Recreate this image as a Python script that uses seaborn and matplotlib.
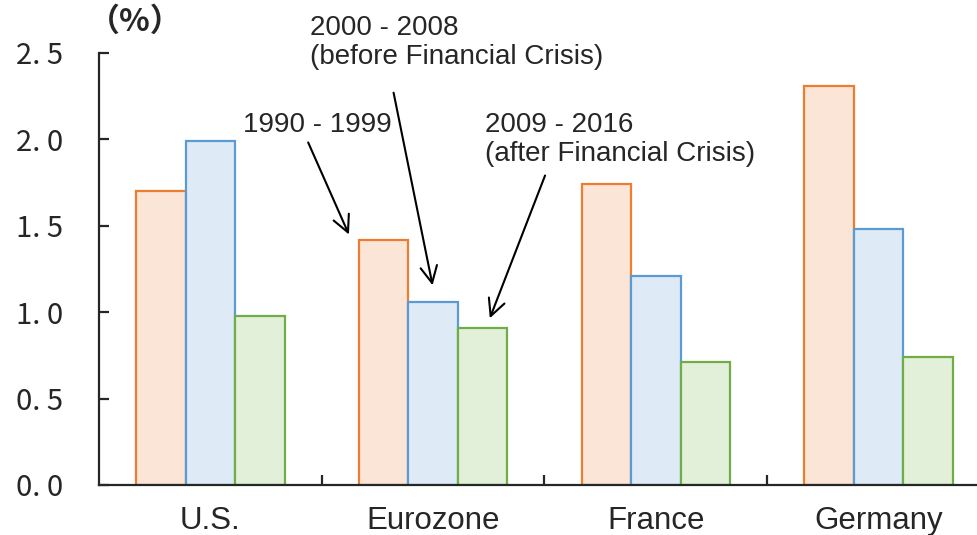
import pandas as pd
import seaborn as sns
import matplotlib.pyplot as plt

regiones = ['U.S.', 'Eurozone', 'France', 'Germany']
periodos = ['1990 - 1999', '2000 - 2008', '2009 - 2016']
v_1990 = [1.70, 1.42, 1.74, 2.31]
v_2000 = [1.99, 1.06, 1.21, 1.48]
v_2009 = [0.98, 0.91, 0.71, 0.74]
yticks = [0.0, 0.5, 1.0, 1.5, 2.0, 2.5]
ytick_labels = ['0. 0', '0. 5', '1. 0', '1. 5', '2. 0', '2. 5']

relleno = ['#FBE5D6', '#DEEBF7', '#E2F0D9']
bordes = ['#ED7D31', '#5B9BD5', '#70AD47']

filas = []
for p, vals in zip(periodos, [v_1990, v_2000, v_2009]):
    for r, v in zip(regiones, vals):
        filas.append({'Region': r, 'Periodo': p, 'Valor': v})
df = pd.DataFrame(filas)

sns.set_style("ticks")
plt.rcParams['font.family'] = ['Liberation Sans', 'DejaVu Sans']
cjk = ['Noto Sans CJK JP', 'DejaVu Sans']

fig = plt.figure(figsize=(9.78, 5.35), dpi=100)
ax = fig.add_axes([99 / 978, 50 / 535, 891 / 978, 432 / 535])

sns.barplot(data=df, x='Region', y='Valor', hue='Periodo', order=regiones,
            hue_order=periodos, palette=relleno, width=0.667, ax=ax,
            legend=False, saturation=1)

for cont, col in zip(ax.containers, bordes):
    for barra in cont:
        barra.set_edgecolor(col)
        barra.set_linewidth(1.6)

ax.set_xlim(-0.5, 3.5)
ax.set_ylim(0, 2.5)
ax.set_xlabel('')
ax.set_ylabel('')
sns.despine(ax=ax)
ax.spines['left'].set_linewidth(1.6)
ax.spines['bottom'].set_linewidth(1.6)

ax.set_yticks(yticks)
ax.set_yticklabels(ytick_labels, family=cjk, fontsize=21)
ax.tick_params(axis='y', direction='in', length=7, width=1.6, pad=26)
ax.set_xticks([0.5, 1.5, 2.5], minor=True)
ax.tick_params(axis='x', which='minor', direction='in', length=7, width=1.6)
ax.tick_params(axis='x', which='major', length=0, pad=15, labelsize=22.5)

ax.text(-0.338, 2.68, '（%）', family=cjk, fontsize=23,
        ha='center', va='center', fontweight='bold')

flecha = dict(arrowstyle='->', color='black', lw=1.5, mutation_scale=30)
ax.annotate('', xy=(0.627, 1.435), xytext=(0.434, 1.997), arrowprops=flecha)
ax.annotate('', xy=(1.0, v_2000[1] + 0.08), xytext=(0.82, 2.286), arrowprops=flecha)
ax.annotate('', xy=(1.25, v_2009[1] + 0.04), xytext=(1.507, 1.806), arrowprops=flecha)

ax.text(0.147, 2.083, '1990 - 1999', fontsize=20, ha='left', va='center')
ax.text(0.447, 2.72, '2000 - 2008\n(before Financial Crisis)', fontsize=20,
        ha='left', va='top', linespacing=1.15)
ax.text(1.233, 2.16, '2009 - 2016\n(after Financial Crisis)', fontsize=20,
        ha='left', va='top', linespacing=1.15)

fig.savefig('out.png', dpi=100)
